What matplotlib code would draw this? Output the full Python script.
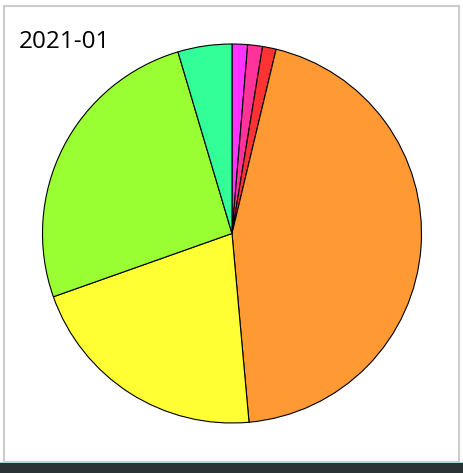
import matplotlib
matplotlib.use('Agg')
import matplotlib.pyplot as plt
from matplotlib.patches import Rectangle

# slice shares, clockwise from 12 o'clock
labels = ['A', 'B', 'C', 'D', 'E', 'F', 'G']
values = [1.32, 1.26, 1.16, 44.8, 21.0, 25.8, 4.6]
colors = ['#ff33ff', '#ff3399', '#ff3333', '#ff9933', '#ffff33', '#99ff33', '#33ff99']
title = '2021-01'

W, H = 463, 473
fig = plt.figure(figsize=(W / 100, H / 100), dpi=100)
fig.patch.set_facecolor('white')

# panel frame and bottom bar
fig.add_artist(Rectangle((4 / W, (H - 461.5) / H), 455 / W, 455.5 / H,
                         transform=fig.transFigure, fill=False,
                         edgecolor='#cccccc', linewidth=1.5))
fig.add_artist(Rectangle((0, 0), 1, 10 / H, transform=fig.transFigure,
                         facecolor='#2b3236', edgecolor='none'))
fig.add_artist(Rectangle((0, 10 / H), 1, 1.2 / H, transform=fig.transFigure,
                         facecolor='#a9d4e2', edgecolor='none'))

cx, cy, r = 232, 233.5, 189.5
ax = fig.add_axes([(cx - r) / W, (H - cy - r) / H, 2 * r / W, 2 * r / H])
ax.pie(values, colors=colors, startangle=90, counterclock=False,
       wedgeprops=dict(edgecolor='black', linewidth=0.8))
ax.set_xlim(-1, 1)
ax.set_ylim(-1, 1)
ax.set_aspect('equal')
ax.axis('off')

fig.text(19 / W, (H - 48) / H, title, fontsize=17.5, family='Open Sans',
         ha='left', va='baseline')

plt.savefig('out.png', dpi=100)
